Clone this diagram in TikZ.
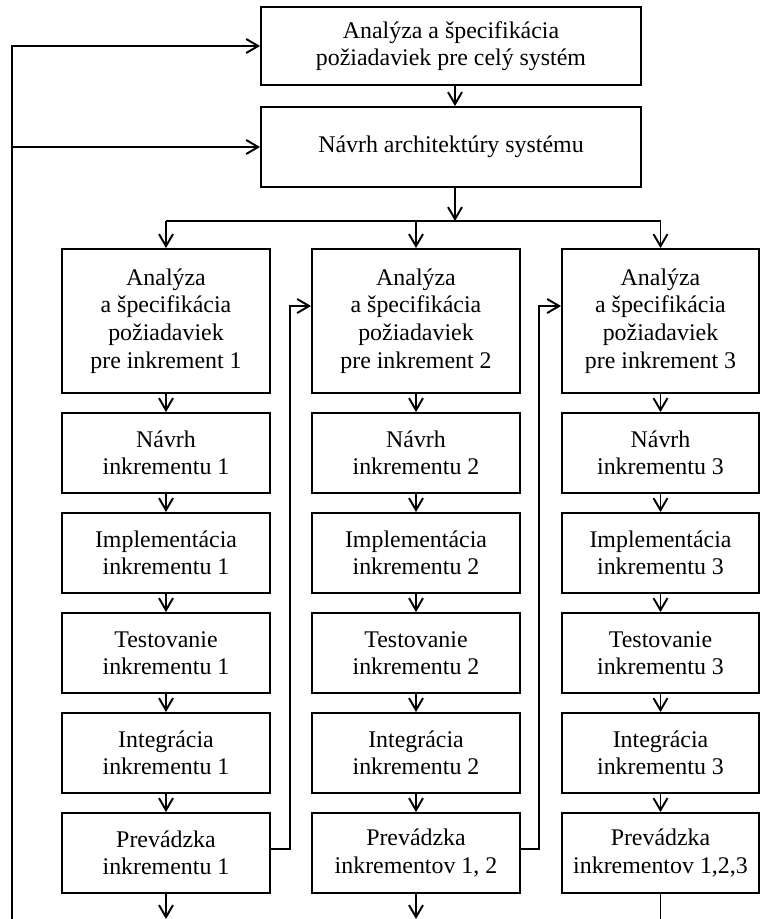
\documentclass[tikz,border=0pt]{standalone}
\usepackage{fontspec}
\setmainfont{Liberation Serif}
\usetikzlibrary{arrows.meta}
\tikzset{box/.style={draw,align=center,inner sep=0pt,font=\fontsize{13.6}{15.7}\selectfont}}
\begin{document}
\begin{tikzpicture}[x=0.02cm,y=-0.02cm,line width=1.1pt,>={Straight Barb[length=2.4mm,width=2.8mm]}]
      \useasboundingbox (0,0) rectangle (761,919);
      \node[box,minimum width=7.6cm,minimum height=1.56cm] (req) at (451,46) {Analýza a špecifikácia\\požiadaviek pre celý systém};
      \node[box,minimum width=7.6cm,minimum height=1.6cm] (arch) at (451,147) {Návrh architektúry systému};
      \coordinate (split) at (455,221);
      \coordinate (back) at (12,919);
      \foreach \c/\x/\w/\p in {1/166/4.16/inkrementu 1, {2/416/4.16/inkrementov 1, 2}, {3/660.5/3.94/inkrementov 1,2,3}} {
        \node[box,minimum width=\w cm,minimum height=2.88cm] (a\c) at (\x,321) {Analýza\\a špecifikácia\\požiadaviek\\pre inkrement \c};
        \node[box,minimum width=\w cm,minimum height=1.6cm] (n\c) at (\x,453) {Návrh\\inkrementu \c};
        \node[box,minimum width=\w cm,minimum height=1.6cm] (i\c) at (\x,553) {Implementácia\\inkrementu \c};
        \node[box,minimum width=\w cm,minimum height=1.6cm] (t\c) at (\x,653) {Testovanie\\inkrementu \c};
        \node[box,minimum width=\w cm,minimum height=1.6cm] (g\c) at (\x,753) {Integrácia\\inkrementu \c};
        \node[box,minimum width=\w cm,minimum height=1.6cm] (p\c) at (\x,853) {Prevádzka\\\p};
        \coordinate (e\c) at (\x,919);
        \draw[->] (split -| a\c.north) -- (a\c.north);
        \draw[->] (a\c) -- (n\c);
        \draw[->] (n\c) -- (i\c);
        \draw[->] (i\c) -- (t\c);
        \draw[->] (t\c) -- (g\c);
        \draw[->] (g\c) -- (p\c);
      }
      \draw[->] (req.south -| split) -- (arch.north -| split);
      \draw[->] (arch.south -| split) -- (split);
      \draw (split -| a1.north) -- (split -| a3.north);
      % spatna vazba
      \draw[->] (back) |- (req.west);
      \draw[->] (back |- arch.west) -- (arch.west);
      \draw[->] ([yshift=0.08cm]p1.east) -- ++(19,0) |- ([yshift=0.3cm]a2.west);
      \draw[->] ([yshift=0.08cm]p2.east) -- ++(18,0) |- ([yshift=0.3cm]a3.west);
      \draw[->] (p1) -- (e1);
      \draw[->] (p2) -- (e2);
      \draw (p3) -- (e3);
    \end{tikzpicture}
\end{document}
